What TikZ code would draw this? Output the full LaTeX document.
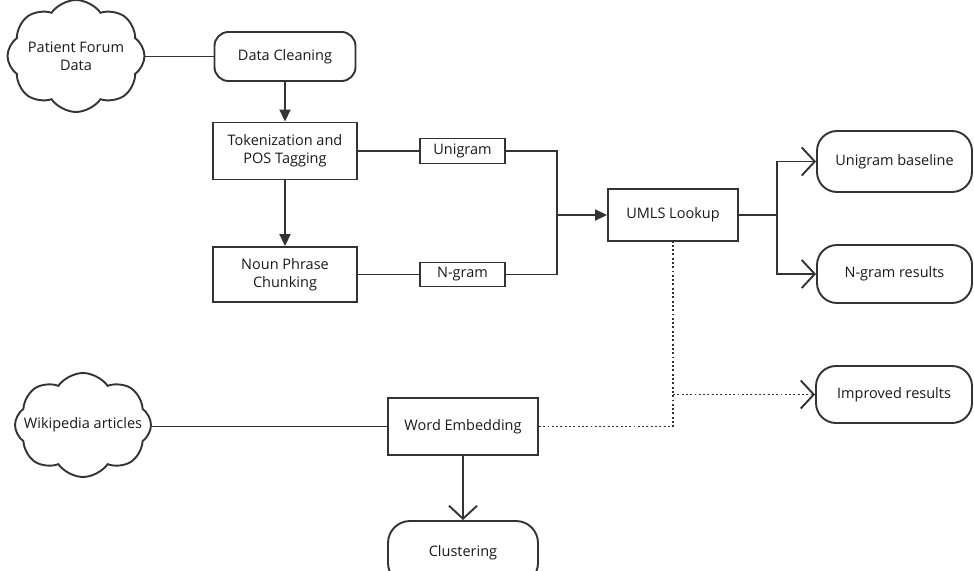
\documentclass[tikz,border=0pt]{standalone}
\usepackage{fontspec}
\setmainfont{Open Sans}
\usetikzlibrary{arrows.meta,shapes.symbols}
\definecolor{ln}{HTML}{333333}
\definecolor{tx}{HTML}{1A1A1A}
\begin{document}
\begin{tikzpicture}[x=1pt,y=-1pt,
  line/.style={draw=ln, line width=1.9pt},
  dotline/.style={draw=ln, line width=1.9pt, dash pattern=on 1.9pt off 2.4pt},
  filltip/.style={-{Triangle[length=12pt,width=11pt]}},
  opentip/.style={-{Straight Barb[length=13pt,width=28pt,line width=1.9pt]}},
  box/.style={draw=ln, line width=1.9pt, fill=white, rectangle, align=center,
    inner sep=0pt, text=tx, font=\fontsize{14.5}{18}\selectfont},
  rbox/.style={box, rounded corners=18pt},
  cloudbox/.style={draw=ln, line width=1.9pt, fill=white, cloud, cloud puffs=8,
    cloud puff arc=110, cloud ignores aspect, align=center, inner sep=0pt, text=tx,
    font=\fontsize{14.5}{17.5}\selectfont}
]
\useasboundingbox (0,0) rectangle (974,570);
\clip (0,0) rectangle (974,570);
\fill[white] (0,0) rectangle (974,570);

% nodes
\node[cloudbox, minimum width=137pt, minimum height=112pt] (pfd) at (76,56) {Patient Forum\\Data};
\node[rbox, rounded corners=14pt, minimum width=141pt, minimum height=49pt] (dc) at (285,56.5) {Data Cleaning};
\node[box, minimum width=144pt, minimum height=57pt] (tok) at (285,151) {Tokenization and\\POS Tagging};
\node[box, minimum width=144pt, minimum height=55pt] (np) at (285,274.5) {Noun Phrase\\Chunking};
\node[box, minimum width=85pt, minimum height=25pt] (uni) at (462.5,151) {Unigram};
\node[box, minimum width=85pt, minimum height=24pt] (ngr) at (462.5,274.5) {N-gram};
\node[box, minimum width=130pt, minimum height=52pt] (umls) at (673,215) {UMLS Lookup};
\node[rbox, rounded corners=20pt, minimum width=155pt, minimum height=61pt] (ub) at (894.5,161.5) {Unigram baseline};
\node[rbox, rounded corners=20pt, minimum width=155pt, minimum height=58pt] (nr) at (894.5,274) {N-gram results};
\node[rbox, rounded corners=20pt, minimum width=156pt, minimum height=57pt] (ir) at (894,394.5) {Improved results};
\node[box, minimum width=150pt, minimum height=57pt] (we) at (463,426.5) {Word Embedding};
\node[cloudbox, inner xsep=-16pt, minimum width=136pt, minimum height=104pt] (wiki) at (83,425) {Wikipedia articles};
\node[rbox, rounded corners=22pt, minimum width=150pt, minimum height=64pt] (clu) at (463,553) {Clustering};

% junctions
\coordinate (j1) at (557,215);
\coordinate (j2) at (777,215);
\coordinate (j3) at (umls.south |- we.east);
\coordinate (j4) at (umls.south |- ir.west);

% connectors
\draw[line] (pfd.east |- dc.west) -- (dc.west);
\draw[line, filltip] (dc.south) -- (tok.north);
\draw[line, filltip] (tok.south) -- (np.north);
\draw[line] (tok.east) -- (uni.west);
\draw[line] (np.east) -- (ngr.west);
\draw[line] (uni.east) -| (j1);
\draw[line] (ngr.east) -| (j1);
\draw[line, filltip] (j1) -- (umls.west);
\draw[line] (umls.east) -- (j2);
\draw[line, opentip] (j2) |- (ub.west);
\draw[line, opentip] (j2) |- (nr.west);
\draw[dotline] (we.east) -- (j3) -- (umls.south);
\draw[dotline, opentip] (j4) -- (ir.west);
\draw[line] (wiki.east |- we.west) -- (we.west);
\draw[line, opentip] (we.south) -- (clu.north);
\end{tikzpicture}
\end{document}
